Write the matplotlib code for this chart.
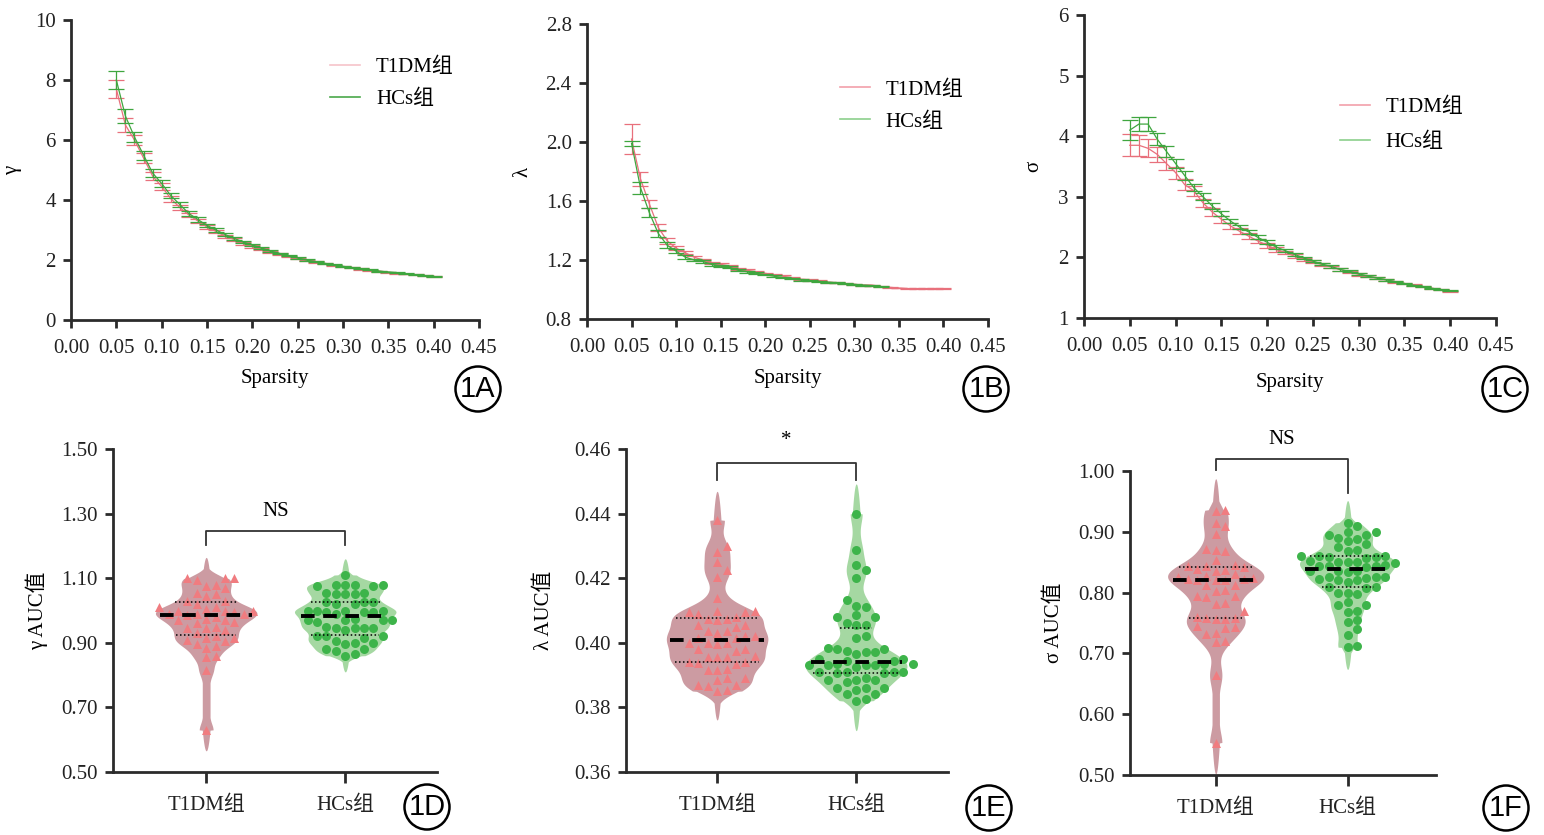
import numpy as np
import matplotlib
matplotlib.use("Agg")
import matplotlib.pyplot as plt
from matplotlib.lines import Line2D
from matplotlib.patches import Ellipse

plt.rcParams['font.family'] = ['Liberation Serif', 'Noto Sans CJK SC']
FS = 15
plt.rcParams['font.size'] = FS

# ---------------- data ----------------
groups = ['T1DM组', 'HCs组']

sparsity = [0.05, 0.06, 0.07, 0.08, 0.09, 0.10, 0.11, 0.12, 0.13, 0.14, 0.15, 0.16,
            0.17, 0.18, 0.19, 0.20, 0.21, 0.22, 0.23, 0.24, 0.25, 0.26, 0.27, 0.28,
            0.29, 0.30, 0.31, 0.32, 0.33, 0.34, 0.35, 0.36, 0.37, 0.38, 0.39, 0.40]

gamma_t1 = [7.70, 6.50, 6.00, 5.40, 4.80, 4.45, 4.05, 3.75, 3.50, 3.30, 3.10, 2.95,
            2.80, 2.68, 2.55, 2.45, 2.36, 2.27, 2.20, 2.12, 2.05, 1.99, 1.93, 1.88,
            1.83, 1.78, 1.74, 1.70, 1.66, 1.63, 1.59, 1.56, 1.53, 1.51, 1.48, 1.46]
gamma_t1_err = [0.30, 0.22, 0.18, 0.15, 0.13, 0.11, 0.10, 0.09, 0.08, 0.07, 0.06, 0.055,
                0.05, 0.045, 0.04, 0.038, 0.035, 0.032, 0.03, 0.028, 0.026, 0.024, 0.022, 0.02,
                0.02, 0.019, 0.018, 0.017, 0.016, 0.015, 0.015, 0.014, 0.013, 0.013, 0.012, 0.012]
gamma_hc = [8.00, 6.80, 6.10, 5.50, 4.90, 4.55, 4.15, 3.85, 3.55, 3.35, 3.15, 3.00,
            2.85, 2.72, 2.60, 2.50, 2.40, 2.30, 2.22, 2.15, 2.07, 2.00, 1.94, 1.89,
            1.84, 1.79, 1.75, 1.71, 1.67, 1.63, 1.60, 1.57, 1.54, 1.51, 1.48, 1.46]
gamma_hc_err = [0.30, 0.22, 0.17, 0.15, 0.13, 0.11, 0.10, 0.09, 0.08, 0.07, 0.06, 0.055,
                0.05, 0.045, 0.04, 0.038, 0.035, 0.032, 0.03, 0.028, 0.026, 0.024, 0.022, 0.02,
                0.02, 0.019, 0.018, 0.017, 0.016, 0.015, 0.015, 0.014, 0.013, 0.013, 0.012, 0.012]

lambda_t1 = [2.02, 1.75, 1.58, 1.42, 1.33, 1.28, 1.25, 1.22, 1.20, 1.18, 1.17, 1.16,
             1.14, 1.13, 1.12, 1.11, 1.10, 1.09, 1.08, 1.07, 1.065, 1.06, 1.05, 1.045,
             1.04, 1.035, 1.03, 1.03, 1.02, 1.015, 1.01, 1.005, 1.005, 1.005, 1.005, 1.005]
lambda_t1_err = [0.10, 0.05, 0.03, 0.025, 0.02, 0.015, 0.012, 0.01, 0.01, 0.008, 0.008, 0.007,
                 0.007, 0.006, 0.006, 0.005, 0.005, 0.005, 0.004, 0.004, 0.004, 0.004, 0.003, 0.003,
                 0.003, 0.003, 0.003, 0.003, 0.002, 0.002, 0.002, 0.002, 0.002, 0.002, 0.002, 0.002]
lambda_hc = [1.99, 1.69, 1.52, 1.38, 1.30, 1.26, 1.22, 1.20, 1.19, 1.17, 1.16, 1.15,
             1.13, 1.12, 1.11, 1.10, 1.09, 1.08, 1.075, 1.065, 1.06, 1.055, 1.05, 1.045,
             1.04, 1.035, 1.03, 1.025, 1.02]
lambda_hc_err = [0.02, 0.04, 0.03, 0.025, 0.02, 0.015, 0.012, 0.01, 0.01, 0.008, 0.008, 0.007,
                 0.007, 0.006, 0.006, 0.005, 0.005, 0.005, 0.004, 0.004, 0.004, 0.004, 0.003, 0.003,
                 0.003, 0.003, 0.003, 0.003, 0.002]

sigma_t1 = [3.85, 3.85, 3.80, 3.70, 3.55, 3.40, 3.20, 3.10, 2.90, 2.75, 2.63, 2.52,
            2.43, 2.35, 2.27, 2.20, 2.13, 2.08, 2.02, 1.97, 1.93, 1.88, 1.84, 1.80,
            1.76, 1.72, 1.69, 1.66, 1.63, 1.60, 1.57, 1.54, 1.52, 1.49, 1.47, 1.44]
sigma_t1_err = [0.18, 0.17, 0.15, 0.13, 0.11, 0.10, 0.09, 0.08, 0.07, 0.07, 0.06, 0.055,
                0.05, 0.045, 0.04, 0.038, 0.035, 0.032, 0.03, 0.028, 0.026, 0.024, 0.022, 0.02,
                0.02, 0.019, 0.018, 0.017, 0.016, 0.015, 0.015, 0.014, 0.013, 0.013, 0.012, 0.012]
sigma_hc = [4.10, 4.20, 4.20, 3.95, 3.75, 3.55, 3.35, 3.15, 3.00, 2.85, 2.72, 2.60,
            2.50, 2.42, 2.33, 2.25, 2.17, 2.11, 2.05, 1.99, 1.94, 1.89, 1.85, 1.80,
            1.77, 1.73, 1.69, 1.66, 1.63, 1.60, 1.57, 1.54, 1.52, 1.49, 1.47, 1.45]
sigma_hc_err = [0.16, 0.12, 0.11, 0.10, 0.09, 0.08, 0.07, 0.06, 0.055, 0.05, 0.045, 0.04,
                0.038, 0.035, 0.032, 0.03, 0.028, 0.026, 0.024, 0.022, 0.02, 0.02, 0.019, 0.018,
                0.017, 0.016, 0.015, 0.015, 0.014, 0.013, 0.013, 0.012, 0.012, 0.011, 0.011, 0.01]

gamma_auc_t1 = [1.10, 1.10, 1.095, 1.10, 1.08, 1.075, 1.07, 1.055, 1.05, 1.045, 1.03, 1.03,
                1.02, 1.01, 1.01, 1.005, 1.0, 1.0, 1.0, 0.995, 0.99, 0.99, 0.99, 0.985, 0.98,
                0.975, 0.97, 0.97, 0.965, 0.96, 0.95, 0.945, 0.945, 0.94, 0.93, 0.92, 0.915,
                0.915, 0.91, 0.905, 0.895, 0.89, 0.885, 0.86, 0.855, 0.815, 0.63]
gamma_auc_hc = [1.11, 1.08, 1.08, 1.08, 1.075, 1.08, 1.075, 1.055, 1.05, 1.055, 1.05, 1.05,
                1.025, 1.025, 1.02, 1.025, 1.02, 1.0, 1.0, 0.995, 0.995, 1.0, 0.995, 0.99,
                1.0, 0.97, 0.975, 0.97, 0.97, 0.965, 0.97, 0.945, 0.945, 0.95, 0.94, 0.945,
                0.945, 0.92, 0.92, 0.915, 0.92, 0.90, 0.90, 0.905, 0.895, 0.88, 0.875, 0.88,
                0.865, 0.86]

lambda_auc_t1 = [0.438, 0.430, 0.428, 0.425, 0.4225, 0.4205, 0.414, 0.410, 0.4095, 0.4095,
                 0.410, 0.409, 0.408, 0.4075, 0.4075, 0.407, 0.4055, 0.4055, 0.405, 0.4035,
                 0.4035, 0.403, 0.402, 0.4015, 0.402, 0.4015, 0.400, 0.400, 0.3995, 0.400,
                 0.398, 0.398, 0.3975, 0.3957, 0.3955, 0.396, 0.3955, 0.394, 0.3938, 0.3935,
                 0.394, 0.3915, 0.3915, 0.392, 0.389, 0.389, 0.3885, 0.387, 0.387, 0.3865,
                 0.385, 0.3855]
lambda_auc_hc = [0.440, 0.4287, 0.424, 0.4225, 0.420, 0.4133, 0.4115, 0.411, 0.4085, 0.408,
                 0.408, 0.406, 0.4055, 0.4055, 0.402, 0.4015, 0.398, 0.398, 0.3985, 0.3975,
                 0.397, 0.3965, 0.397, 0.395, 0.3945, 0.3945, 0.395, 0.3935, 0.3935, 0.393,
                 0.393, 0.3935, 0.393, 0.393, 0.3925, 0.391, 0.391, 0.3905, 0.391, 0.391,
                 0.3905, 0.3885, 0.3885, 0.389, 0.388, 0.3885, 0.386, 0.386, 0.3855, 0.386,
                 0.384, 0.384, 0.3825, 0.382]

sigma_auc_t1 = [0.936, 0.935, 0.915, 0.91, 0.896, 0.872, 0.870, 0.868, 0.854, 0.845, 0.843,
                0.842, 0.844, 0.838, 0.836, 0.837, 0.830, 0.828, 0.826, 0.824, 0.822, 0.821,
                0.822, 0.820, 0.821, 0.813, 0.812, 0.805, 0.803, 0.795, 0.794, 0.793, 0.783,
                0.781, 0.770, 0.760, 0.758, 0.757, 0.756, 0.759, 0.745, 0.744, 0.742, 0.734,
                0.732, 0.720, 0.718, 0.664, 0.553]
sigma_auc_hc = [0.915, 0.91, 0.90, 0.90, 0.895, 0.895, 0.89, 0.888, 0.885, 0.88, 0.875, 0.87,
                0.868, 0.86, 0.861, 0.86, 0.858, 0.859, 0.857, 0.852, 0.85, 0.851, 0.848, 0.85,
                0.845, 0.843, 0.843, 0.844, 0.842, 0.836, 0.835, 0.834, 0.836, 0.826, 0.825,
                0.824, 0.826, 0.822, 0.82, 0.818, 0.82, 0.81, 0.81, 0.808, 0.80, 0.80, 0.797,
                0.785, 0.78, 0.78, 0.77, 0.768, 0.755, 0.752, 0.74, 0.73, 0.71, 0.712]

# ---------------- style ----------------
T1_LINE = '#e8707c'
HC_LINE = '#3fa63f'
T1_BODY = '#cc9ba2'
HC_BODY = '#a5d8a2'
T1_MK = '#f07c80'
HC_MK = '#3db44a'
AX_COL = '#2b2b2b'

W, H = 1544, 835
fig = plt.figure(figsize=(W / 100, H / 100), dpi=100)


def add_axes_px(left, right, top, bottom):
    return fig.add_axes([left / W, 1 - bottom / H, (right - left) / W, (bottom - top) / H])


def style_axes(ax):
    for s in ['top', 'right']:
        ax.spines[s].set_visible(False)
    for s in ['left', 'bottom']:
        ax.spines[s].set_linewidth(2)
        ax.spines[s].set_color(AX_COL)
    ax.tick_params(width=2, length=6, color=AX_COL, labelsize=FS, labelcolor='#222222')


def panel_label(cx, cy, txt):
    fig.add_artist(Ellipse((cx / W, 1 - cy / H), 45 / W, 45 / H, transform=fig.transFigure,
                           fc='white', ec='black', lw=1.8))
    fig.text(cx / W, 1 - cy / H, txt, ha='center', va='center', fontsize=21,
             family='Liberation Sans', transform=fig.transFigure)


# ---------------- top line panels ----------------
def line_panel(box, ylim, yticks, ylabel, ylab_x, t1, t1e, hc, hce, leg_cols, leg_pos, leg_sp, xlab_y):
    ax = add_axes_px(*box)
    style_axes(ax)
    ax.errorbar(sparsity[:len(t1)], t1, yerr=t1e, color=T1_LINE, lw=0.9, elinewidth=0.9,
                capsize=5.5, capthick=0.9, zorder=2)
    ax.errorbar(sparsity[:len(hc)], hc, yerr=hce, color=HC_LINE, lw=0.9, elinewidth=0.9,
                capsize=5.5, capthick=0.9, zorder=3)
    ax.set_xlim(0, 0.45)
    ax.set_ylim(*ylim)
    ax.set_xticks([0.0, 0.05, 0.10, 0.15, 0.20, 0.25, 0.30, 0.35, 0.40, 0.45])
    ax.set_xticklabels(['%.2f' % v for v in ax.get_xticks()])
    ax.set_yticks(yticks[0])
    ax.set_yticklabels(yticks[1])
    ax.tick_params(axis='x', pad=8)
    ax.tick_params(axis='y', pad=5)
    ax.set_xlabel('Sparsity', fontsize=FS)
    ax.xaxis.set_label_coords(0.5, xlab_y)
    ax.set_ylabel(ylabel, fontsize=FS)
    ax.yaxis.set_label_coords(ylab_x, 0.5)
    handles = [Line2D([], [], color=leg_cols[0], lw=1.2), Line2D([], [], color=leg_cols[1], lw=1.2)]
    ax.legend(handles, groups, loc='upper left', bbox_to_anchor=leg_pos, frameon=False,
              fontsize=FS, handlelength=1.45, handletextpad=0.75, labelspacing=leg_sp,
              borderpad=0, borderaxespad=0)
    return ax


line_panel((71, 479, 20, 320), (0, 10),
           ([0, 2, 4, 6, 8, 10], ['0', '2', '4', '6', '8', '10']),
           'γ', -0.12, gamma_t1, gamma_t1_err, gamma_hc, gamma_hc_err,
           ('#f6c4ca', '#4aa84a'), (0.635, 0.875), 0.6, -0.165)
line_panel((587, 988, 24, 319), (0.8, 2.8),
           ([0.8, 1.2, 1.6, 2.0, 2.4, 2.8], ['0.8', '1.2', '1.6', '2.0', '2.4', '2.8']),
           'λ', -0.135, lambda_t1, lambda_t1_err, lambda_hc, lambda_hc_err,
           ('#f2a0aa', '#8ccf8c'), (0.631, 0.81), 0.6, -0.17)
line_panel((1084, 1496, 15, 318), (1, 6),
           ([1, 2, 3, 4, 5, 6], ['1', '2', '3', '4', '5', '6']),
           'σ', -0.10, sigma_t1, sigma_t1_err, sigma_hc, sigma_hc_err,
           ('#f2a0aa', '#8ccf8c'), (0.621, 0.728), 0.75, -0.18)


# ---------------- violin panels ----------------
def swarm_offsets(ax, xc, vals, d):
    vals = np.asarray(vals, float)
    pix = ax.transData.transform(np.column_stack([np.full(len(vals), xc), vals]))
    x0, ys = pix[0, 0], pix[:, 1]
    order = np.argsort(ys)
    placed = []
    xs = np.zeros(len(vals))
    for i in order:
        y = ys[i]
        for k in range(60):
            off = ((k + 1) // 2) * d * (1 if k % 2 else -1)
            ok = all((off - px) ** 2 + (y - py) ** 2 >= (0.97 * d) ** 2 for px, py in placed)
            if ok:
                break
        placed.append((off, y))
        xs[i] = x0 + off
    back = ax.transData.inverted().transform(np.column_stack([xs, ys]))
    return back[:, 0]


def violin(ax, xc, vals, body, mk, marker, half=0.34):
    v = np.asarray(vals, float)
    sd = v.std(ddof=1)
    bw = 0.22 * sd
    ext = 3.4 * bw
    lo, hi = v.min() - ext, v.max() + ext
    ys = np.linspace(lo, hi, 600)
    dens = np.exp(-0.5 * ((ys[:, None] - v[None, :]) / bw) ** 2).sum(axis=1)
    w = dens / dens.max() * half
    w = w + 0.025 * ((ys >= v.min()) & (ys <= v.max()))
    taper = np.sqrt(np.clip((ys - lo) / ext, 0, 1) * np.clip((hi - ys) / ext, 0, 1))
    w = np.maximum(w, 0.028) * taper
    ax.fill_betweenx(ys, xc - w, xc + w, color=body, lw=0, zorder=1)
    xs = swarm_offsets(ax, xc, v, 9.4)
    ax.scatter(xs, v, s=42, marker=marker, color=mk, lw=0, zorder=3)
    q1, med, q3 = np.percentile(v, [25, 50, 75])
    for q, ls, lw in [(med, (0, (3.5, 2.2)), 2.8), (q1, (0, (1, 1.6)), 1.1), (q3, (0, (1, 1.6)), 1.1)]:
        wq = np.interp(q, ys, w) * 0.92
        ax.plot([xc - wq, xc + wq], [q, q], color='black', lw=lw, ls=ls, zorder=4,
                solid_capstyle='butt')


def violin_panel(box, xlim, ylim, yticks, ylabel, ylab_x, t1, hc, sig):
    ax = add_axes_px(*box)
    style_axes(ax)
    ax.set_xlim(*xlim)
    ax.set_ylim(*ylim)
    ax.set_yticks(yticks)
    ax.set_yticklabels(['%.2f' % t for t in yticks])
    ax.set_xticks([1, 2])
    ax.set_xticklabels(groups, fontsize=FS)
    ax.tick_params(axis='x', pad=9, length=8)
    ax.tick_params(axis='y', pad=5)
    ax.set_ylabel(ylabel, fontsize=FS)
    ax.yaxis.set_label_coords(ylab_x, 0.5)
    violin(ax, 1, t1, T1_BODY, T1_MK, '^')
    violin(ax, 2, hc, HC_BODY, HC_MK, 'o')
    text, y_bar, leg_l, leg_r, y_txt = sig
    ax.plot([1, 1, 2, 2], [leg_l, y_bar, y_bar, leg_r], color='#333333', lw=1.3,
            clip_on=False, zorder=5)
    ax.text(1.5, y_txt, text, ha='center', va='center', fontsize=FS, clip_on=False)
    return ax


violin_panel((113, 437, 449, 772), (0.33, 2.66), (0.5, 1.5),
             [0.5, 0.7, 0.9, 1.1, 1.3, 1.5], 'γ AUC值', -0.20,
             gamma_auc_t1, gamma_auc_hc, ('NS', 1.246, 1.203, 1.203, 1.305))
violin_panel((626, 948, 449, 772), (0.345, 2.66), (0.36, 0.46),
             [0.36, 0.38, 0.40, 0.42, 0.44, 0.46], 'λ AUC值', -0.225,
             lambda_auc_t1, lambda_auc_hc, ('*', 0.4558, 0.4505, 0.4505, 0.4625))
violin_panel((1130, 1436, 471, 775), (0.35, 2.67), (0.5, 1.0),
             [0.5, 0.6, 0.7, 0.8, 0.9, 1.0], 'σ AUC值', -0.215,
             sigma_auc_t1, sigma_auc_hc, ('NS', 1.0197, 1.002, 0.964, 1.051))

panel_label(478, 389, '1A')
panel_label(986, 389, '1B')
panel_label(1505, 389, '1C')
panel_label(427, 807, '1D')
panel_label(989, 808, '1E')
panel_label(1506, 808, '1F')

fig.savefig('out.png', dpi=100)
